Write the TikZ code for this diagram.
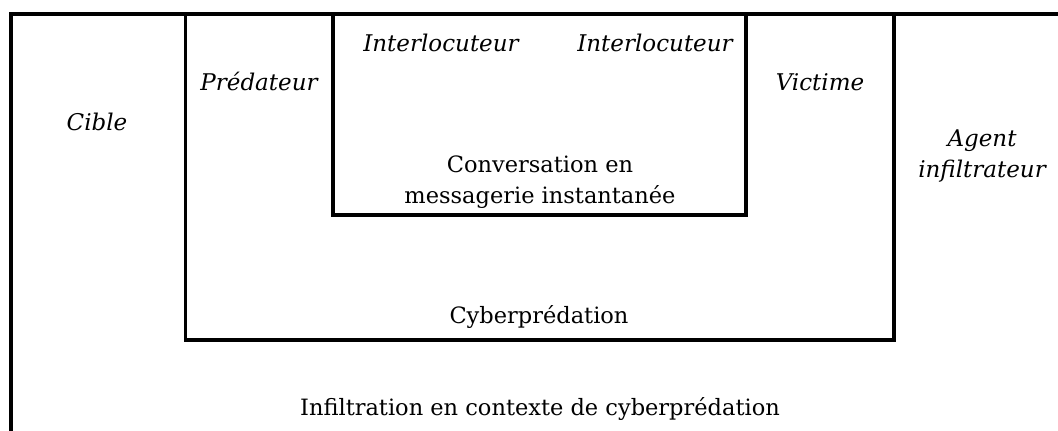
\documentclass[tikz,border=0pt]{standalone}
\usepackage{fontspec}
\setmainfont{DejaVu Serif}
\begin{document}
\begin{tikzpicture}[x=1pt,y=-1pt,
  frame/.style={line width=3.6pt,line cap=rect},
  lbl/.style={font=\fontsize{22.5}{31}\selectfont,inner sep=0pt,anchor=base,align=center},
  role/.style={lbl,font=\fontsize{23}{31}\selectfont\itshape}]
\useasboundingbox (0,0) rectangle (1058,431);
\fill[white] (0,0) rectangle (1058,431);
% outer box (continues past right and bottom edges)
\draw[frame] (1070,14) -- (11,14) -- (11,445);
% middle box
\draw[frame] (185.5,14) rectangle (894,340);
% inner box
\draw[frame] (333,14) rectangle (746,215);
% texts
\node[role] (cible) at (97,130) {Cible};
\node[role] (pred) at (259,90) {Prédateur};
\node[role] (int1) at (441,51) {Interlocuteur};
\node[role] (int2) at (655,51) {Interlocuteur};
\node[role] (vict) at (820,90) {Victime};
\node[role] (agent) at (982,177) {Agent\\infiltrateur};
\node[lbl] (conv) at (540,203) {Conversation en\\messagerie instantanée};
\node[lbl] (cyber) at (539,323) {Cyberprédation};
\node[lbl] (infil) at (540,415) {Infiltration en contexte de cyberprédation};
\end{tikzpicture}
\end{document}
